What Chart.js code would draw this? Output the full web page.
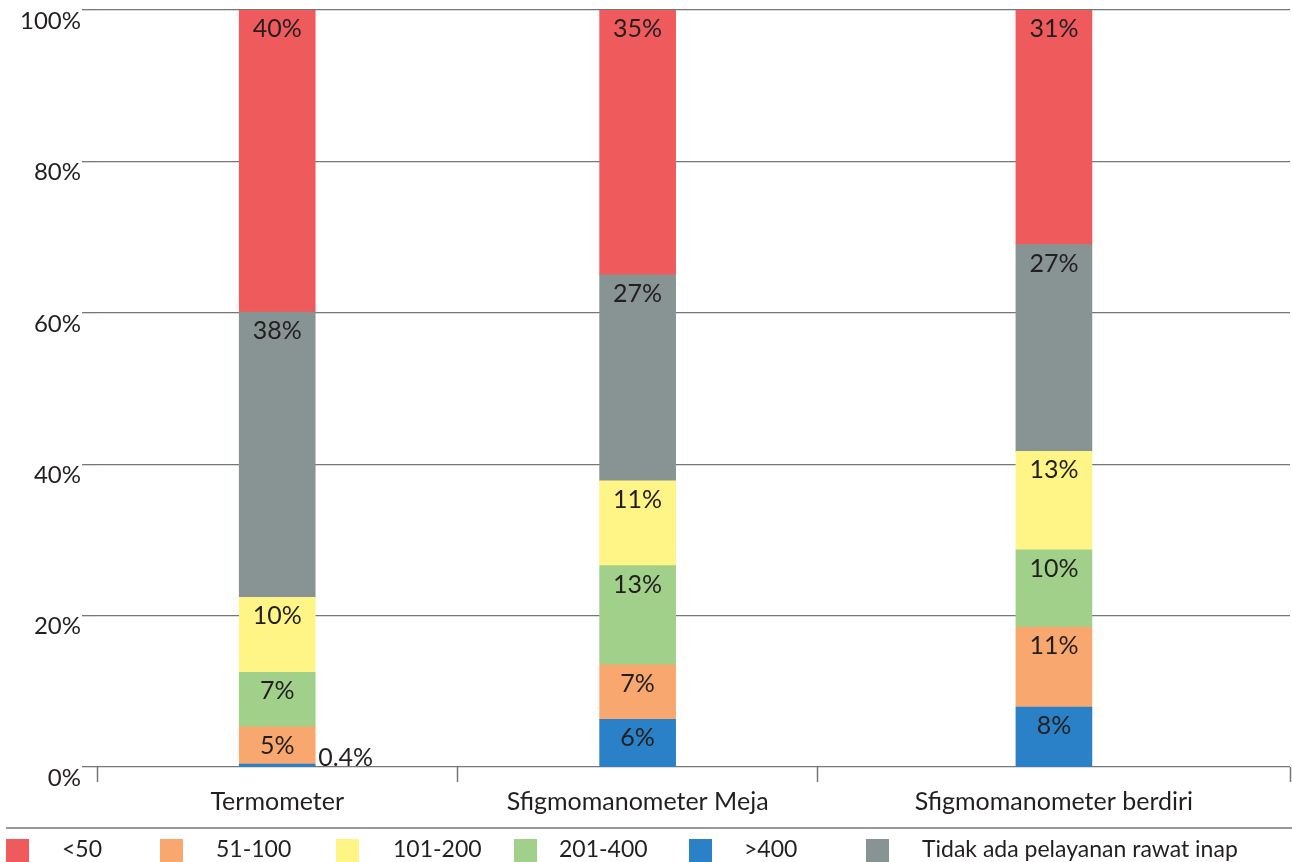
<!DOCTYPE html>
<html>
<head>
<meta charset="utf-8">
<script src="https://cdn.jsdelivr.net/npm/chart.js@4.4.1/dist/chart.umd.min.js"></script>
<style>
  html, body { margin: 0; padding: 0; background: #ffffff; }
  #wrap { width: 1292px; height: 862px; position: relative; }
</style>
</head>
<body>
<div id="wrap"><canvas id="c"></canvas></div>
<script>
// ---- Data (percent of facilities) ----
const categories = ['Termometer', 'Sfigmomanometer Meja', 'Sfigmomanometer berdiri'];
const yTickValues = [0, 20, 40, 60, 80, 100];

const seriesGt400   = [0.4, 6.3, 7.9];     // >400
const series51_100  = [4.9, 7.2, 10.6];    // 51-100
const series201_400 = [7.2, 13.1, 10.2];   // 201-400
const series101_200 = [9.9, 11.2, 13.0];   // 101-200
const seriesTidak   = [37.7, 27.2, 27.3];  // Tidak ada pelayanan rawat inap
const seriesLt50    = [39.9, 35.0, 31.0];  // <50

// ---- Layout / style constants ----
const slotWidths = [1, 1, 1.31];           // relative width of each category slot
const FONT = 'Lato, "Open Sans", sans-serif';
const TEXT = '#231f20';
const GRID = '#767676';
const COLORS = {
  lt50: '#ef5a5c', r51: '#f8a86e', r101: '#fff586',
  r201: '#a0d08a', gt400: '#2a81c7', tidak: '#889493'
};

const boundaries = [0];
slotWidths.forEach(w => boundaries.push(boundaries[boundaries.length - 1] + w));
const centers = slotWidths.map((w, i) => boundaries[i] + w / 2);
const toPoints = arr => arr.map((v, i) => ({ x: centers[i], y: v }));

const datasets = [
  { label: '>400', data: toPoints(seriesGt400), backgroundColor: COLORS.gt400 },
  { label: '51-100', data: toPoints(series51_100), backgroundColor: COLORS.r51 },
  { label: '201-400', data: toPoints(series201_400), backgroundColor: COLORS.r201 },
  { label: '101-200', data: toPoints(series101_200), backgroundColor: COLORS.r101 },
  { label: 'Tidak ada pelayanan rawat inap', data: toPoints(seriesTidak), backgroundColor: COLORS.tidak },
  { label: '<50', data: toPoints(seriesLt50), backgroundColor: COLORS.lt50 }
];

const legendOrder = ['<50', '51-100', '101-200', '201-400', '>400', 'Tidak ada pelayanan rawat inap'];
const legendBoxX = [6, 160, 336, 514, 689, 866];
const legendTextX = [62, 216, 393, 559, 744, 922];

const isBoundary = v => boundaries.some(b => Math.abs(b - v) < 1e-6);

const valueLabels = {
  id: 'valueLabels',
  afterDatasetsDraw(chart) {
    const ctx = chart.ctx;
    ctx.save();
    ctx.font = '25px ' + FONT;
    ctx.fillStyle = TEXT;
    chart.data.datasets.forEach((ds, i) => {
      const meta = chart.getDatasetMeta(i);
      meta.data.forEach((bar, j) => {
        const v = ds.data[j].y;
        if (v < 1) {
          ctx.textAlign = 'left';
          ctx.textBaseline = 'alphabetic';
          ctx.fillText(v.toFixed(1) + '%', bar.x + bar.width / 2 + 3, bar.base);
        } else {
          ctx.textAlign = 'center';
          ctx.textBaseline = 'middle';
          ctx.fillText(Math.round(v) + '%', bar.x, bar.y + 19);
        }
      });
    });
    ctx.restore();
  }
};

const customLegend = {
  id: 'customLegend',
  afterDraw(chart) {
    const ctx = chart.ctx;
    ctx.save();
    ctx.strokeStyle = GRID;
    ctx.lineWidth = 1.5;
    ctx.beginPath();
    ctx.moveTo(6, 828);
    ctx.lineTo(1292, 828);
    ctx.stroke();
    ctx.font = '23px ' + FONT;
    ctx.textAlign = 'left';
    ctx.textBaseline = 'middle';
    legendOrder.forEach((lbl, k) => {
      const ds = chart.data.datasets.find(d => d.label === lbl);
      ctx.fillStyle = ds.backgroundColor;
      ctx.fillRect(legendBoxX[k], 839, 23, 24);
      ctx.fillStyle = TEXT;
      ctx.fillText(lbl, legendTextX[k], 850);
    });
    ctx.restore();
  }
};

new Chart(document.getElementById('c'), {
  type: 'bar',
  data: { datasets },
  options: {
    responsive: true,
    maintainAspectRatio: false,
    animation: false,
    layout: { padding: { top: 10, right: 2, left: 0, bottom: 0 } },
    datasets: { bar: { barThickness: 76, borderWidth: 0 } },
    plugins: { legend: { display: false }, tooltip: { enabled: false } },
    scales: {
      x: {
        type: 'linear',
        stacked: true,
        offset: false,
        min: 0,
        max: boundaries[boundaries.length - 1],
        afterBuildTicks(scale) {
          scale.ticks = [...boundaries, ...centers].sort((a, b) => a - b).map(v => ({ value: v }));
        },
        afterFit(scale) {
          scale.height = 95;
          scale.paddingLeft = 0;
          scale.paddingRight = 0;
        },
        border: { display: false },
        grid: {
          offset: false,
          drawOnChartArea: false,
          drawTicks: true,
          tickLength: 15,
          tickWidth: 1.5,
          tickColor: ctx => (ctx.tick && isBoundary(ctx.tick.value)) ? GRID : 'rgba(0,0,0,0)'
        },
        ticks: {
          autoSkip: false,
          maxRotation: 0,
          padding: 5,
          font: { family: FONT, size: 25 },
          color: TEXT,
          callback: (value) => {
            const idx = centers.findIndex(c => Math.abs(c - value) < 1e-6);
            return idx >= 0 ? categories[idx] : '';
          }
        }
      },
      y: {
        stacked: true,
        min: 0,
        max: 100,
        afterBuildTicks(scale) {
          scale.ticks = yTickValues.map(v => ({ value: v }));
        },
        afterFit(scale) {
          scale.width = 97;
          scale.paddingTop = 0;
          scale.paddingBottom = 0;
        },
        border: { display: false },
        grid: {
          color: GRID,
          lineWidth: 1.3,
          drawTicks: true,
          tickLength: 15
        },
        ticks: {
          padding: 1,
          labelOffset: 11,
          font: { family: FONT, size: 24 },
          color: TEXT,
          callback: v => v + '%'
        }
      }
    }
  },
  plugins: [valueLabels, customLegend]
});
</script>
</body>
</html>
